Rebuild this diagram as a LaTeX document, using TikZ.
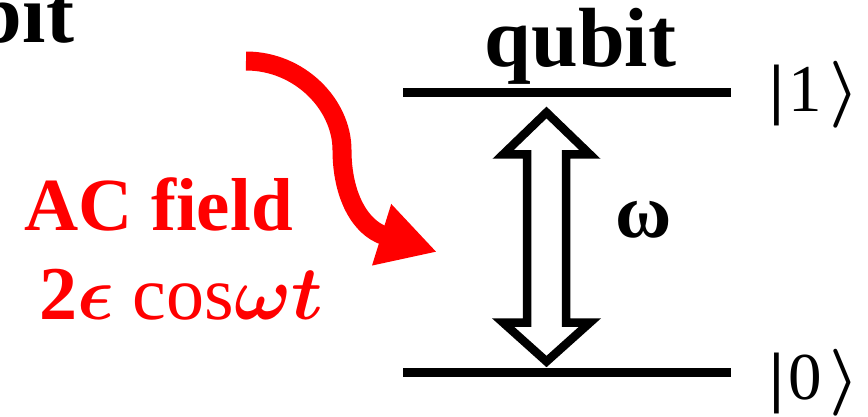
\RequirePackage{fix-cm}
\documentclass[tikz,border=0pt]{standalone}
\usepackage{fontspec}
\setmainfont{Liberation Serif}
\usetikzlibrary{arrows.meta}
\definecolor{acred}{RGB}{255,0,0}
\begin{document}
\begin{tikzpicture}[x=1pt,y=-1pt,
  level/.style={line width=9pt},
  hollow/.style={line width=8.5pt, fill=white, line join=miter, miter limit=10},
  lbl/.style={inner sep=0pt, outer sep=0pt},
  bigbold/.style={lbl, font=\fontsize{84}{84}\selectfont\bfseries},
  ketlbl/.style={lbl, anchor=base west, font=\fontsize{67}{67}\selectfont},
  redlbl/.style={lbl, anchor=base west, text=acred},
  fieldarrow/.style={acred, line width=19pt, -{Triangle[length=58pt,width=60pt]}}]
\useasboundingbox (0,0) rectangle (868,417);
\clip (0,0) rectangle (868,417);

% energy levels
\coordinate (l1w) at (403,92.5);
\coordinate (l1e) at (731,92.5);
\coordinate (l0w) at (403,372.5);
\coordinate (l0e) at (731,372.5);
\draw[level] (l1w) -- (l1e);
\draw[level] (l0w) -- (l0e);

% hollow double arrow (omega transition)
\begin{scope}[shift={(546.5,0)}]
\draw[hollow] (0,112.5) -- (43.5,154.5) -- (19.5,154.5) -- (19.5,322.5) -- (43.5,322.5)
  -- (0,361.5) -- (-43.5,322.5) -- (-19.5,322.5) -- (-19.5,154.5) -- (-43.5,154.5) -- cycle;
\end{scope}

% labels
\node[bigbold, anchor=base] (qubit) at (580.5,67) {qubit};
\node[bigbold, anchor=base east] (bit) at (74,43) {bit};
\node[lbl, anchor=base, font=\fontsize{77}{77}\selectfont\bfseries] (omega) at (644,237) {ω};
\node[ketlbl] (ket1) at (769,112) {{\bfseries|}\kern5pt 1\kern7pt{\boldmath$\rangle$}};
\node[ketlbl] (ket0) at (769,399) {{\bfseries|}\kern5pt 0\kern7pt{\boldmath$\rangle$}};

\node[redlbl, font=\fontsize{75}{75}\selectfont\bfseries] (ac) at (24,230) {AC field};
\node[redlbl, font=\fontsize{76}{76}\selectfont] (drive) at (39,319)
  {\textbf{2}{\boldmath$\epsilon$} cos{\boldmath$\omega t$}};

% red AC field arrow
\coordinate (fs) at (246,61);
\coordinate (fm) at (342,150);
\coordinate (fe) at (437,252);
\draw[fieldarrow] (fs) .. controls (300,61) and (342,105) .. (fm)
  .. controls (342,195) and (360,228) .. (fe);
\end{tikzpicture}
\end{document}
